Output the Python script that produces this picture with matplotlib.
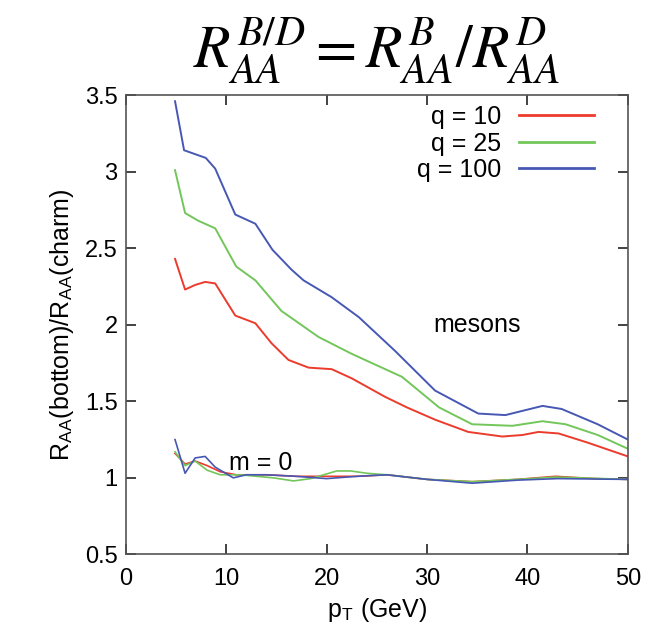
import matplotlib.pyplot as plt

plt.rcParams['font.family'] = ['Liberation Sans', 'DejaVu Sans']
plt.rcParams['mathtext.fontset'] = 'stix'

# mesons, q = 10 / 25 / 100
pt_q10 = [4.9, 5.9, 6.9, 7.9, 8.9, 10.9, 12.9, 14.5, 16.2, 18.2, 20.5, 22.5,
          25.8, 28.0, 30.8, 34.1, 37.5, 39.5, 41.1, 43.1, 46.0, 50.0]
r_q10 = [2.43, 2.23, 2.26, 2.28, 2.27, 2.06, 2.01, 1.88, 1.77, 1.72, 1.71, 1.65,
         1.53, 1.46, 1.38, 1.30, 1.27, 1.28, 1.30, 1.29, 1.23, 1.14]

pt_q25 = [4.9, 5.9, 7.2, 8.9, 11.0, 12.9, 15.5, 19.2, 22.5, 27.5, 31.2, 34.5,
          38.5, 41.5, 43.8, 47.0, 50.0]
r_q25 = [3.01, 2.73, 2.68, 2.63, 2.38, 2.29, 2.09, 1.92, 1.81, 1.66, 1.46, 1.35,
         1.34, 1.37, 1.35, 1.28, 1.19]

pt_q100 = [4.9, 5.8, 7.96, 8.9, 10.9, 12.9, 14.6, 16.5, 17.7, 20.5, 23.2, 26.8,
           30.8, 35.1, 37.8, 41.5, 43.4, 47.0, 50.0]
r_q100 = [3.46, 3.14, 3.09, 3.02, 2.72, 2.66, 2.49, 2.36, 2.29, 2.18, 2.05, 1.83,
          1.57, 1.42, 1.41, 1.47, 1.45, 1.35, 1.25]

# massless case (m = 0)
pt_m0_q10 = [4.9, 5.9, 6.9, 8.1, 9.4, 11.0, 14.0, 17.0, 20.0, 23.0, 26.0, 30.0,
             34.5, 39.0, 42.8, 46.7, 50.0]
r_m0_q10 = [1.16, 1.09, 1.11, 1.08, 1.04, 1.02, 1.02, 1.01, 1.01, 1.01, 1.02, 0.99,
            0.975, 0.99, 1.01, 0.995, 0.99]

pt_m0_q25 = [4.9, 5.9, 6.9, 8.1, 9.4, 11.4, 14.7, 16.7, 18.4, 21.0, 22.4, 24.0,
             26.0, 30.0, 34.5, 39.0, 42.8, 50.0]
r_m0_q25 = [1.17, 1.08, 1.11, 1.05, 1.02, 1.02, 1.0, 0.98, 0.995, 1.045, 1.045, 1.03,
            1.02, 0.99, 0.975, 0.99, 1.005, 0.99]

pt_m0_q100 = [4.9, 5.9, 6.9, 7.9, 8.9, 10.7, 12.0, 14.0, 17.0, 20.0, 23.0, 26.0,
              30.0, 34.5, 39.0, 43.0, 50.0]
r_m0_q100 = [1.25, 1.03, 1.13, 1.14, 1.07, 1.0, 1.02, 1.02, 1.01, 0.995, 1.01, 1.02,
             0.99, 0.965, 0.985, 0.995, 0.99]

red = '#ec3b2c'
green = '#72c65a'
blue = '#4658b4'

fig = plt.figure(figsize=(6.52, 6.30), dpi=100)
ax = fig.add_axes([0.193, 0.12, 0.77, 0.729])

ax.plot(pt_q10, r_q10, color=red, lw=1.4, label='q = 10')
ax.plot(pt_q25, r_q25, color=green, lw=1.4, label='q = 25')
ax.plot(pt_q100, r_q100, color=blue, lw=1.4, label='q = 100')
ax.plot(pt_m0_q10, r_m0_q10, color=red, lw=1.2)
ax.plot(pt_m0_q25, r_m0_q25, color=green, lw=1.2)
ax.plot(pt_m0_q100, r_m0_q100, color=blue, lw=1.2)

ax.set_xlim(0, 50)
ax.set_ylim(0.5, 3.5)
ax.set_xticks([0, 10, 20, 30, 40, 50])
ax.set_yticks([0.5, 1, 1.5, 2, 2.5, 3, 3.5])
ax.set_yticklabels(['0.5', '1', '1.5', '2', '2.5', '3', '3.5'])
ax.tick_params(direction='in', top=True, right=True, length=7, width=1.2,
               labelsize=17, color='#222222')
ax.tick_params(axis='x', pad=10)
ax.tick_params(axis='y', pad=6)
for s in ax.spines.values():
    s.set_color('#555555')
    s.set_linewidth(1.2)

ax.set_xlabel('p$_\\mathregular{T}$ (GeV)', fontsize=18, labelpad=4)
ax.set_ylabel('R$_\\mathregular{AA}$(bottom)/R$_\\mathregular{AA}$(charm)',
              fontsize=18, labelpad=6)

ax.text(35, 2.0, 'mesons', fontsize=18, ha='center', va='center')
ax.text(13.4, 1.1, 'm = 0', fontsize=18, ha='center', va='center')

leg = ax.legend(loc='upper right', bbox_to_anchor=(0.952, 1.0),
                frameon=False, fontsize=18, markerfirst=False,
                handlelength=3.0, labelspacing=0.1, handletextpad=0.7,
                borderaxespad=0, borderpad=0.4)
for t in leg.get_texts():
    t.set_ha('right')
for line in leg.get_lines():
    line.set_linewidth(2)

fig.text(0.578, 0.893,
         r'$R_{AA}^{B/D}=R_{AA}^{B}/R_{AA}^{D}$',
         fontsize=43, ha='center', va='baseline')

fig.savefig('out.png', dpi=100)
